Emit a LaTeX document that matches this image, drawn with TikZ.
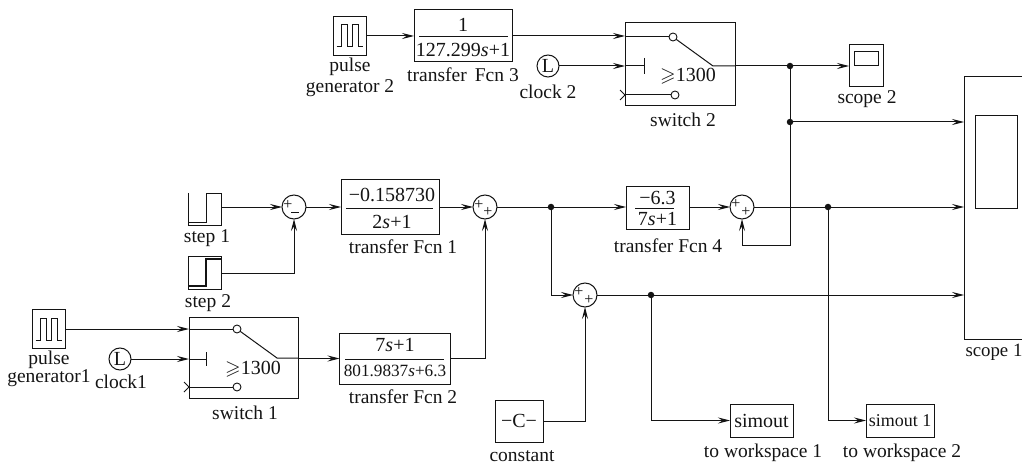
\documentclass[tikz,border=0pt]{standalone}
\usepackage{amssymb}
\usepackage{fontspec}
\setmainfont{Liberation Serif}
\usetikzlibrary{arrows.meta,calc}
\definecolor{ink}{gray}{0.08}
\tikzset{
  every node/.style={inner sep=0pt,outer sep=0pt,text=ink,font=\fontsize{20}{22}\selectfont},
  blk/.style={draw=ink,line width=1pt,rectangle},
  sumc/.style={draw=ink,line width=1pt,circle,minimum size=24pt},
  clk/.style={draw=ink,line width=1pt,circle,minimum size=22pt},
  port/.style={draw=ink,line width=.9pt,circle,fill=white,minimum size=8pt},
  lbl/.style={align=center,font=\fontsize{19.5}{21}\selectfont},
  sign/.style={font=\fontsize{16}{16}\selectfont},
  wire/.style={draw=ink,line width=1pt},
  sig/.style={wire,-{Stealth[length=12pt,width=6pt,inset=4.5pt]}},
  jun/.style={circle,fill=ink,minimum size=6.5pt},
  wave/.style={draw=ink,line width=1pt},
  small/.style={font=\fontsize{18}{20}\selectfont},
}
\newcommand{\pulsewave}[2]{% centre x, centre y
  \draw[wave] (#1-13,#2+11) -- ++(5,0) -- ++(0,-22) -- ++(6,0) -- ++(0,22) -- ++(5,0) -- ++(0,-22) -- ++(6,0) -- ++(0,22) -- ++(4,0);
}
\begin{document}
\begin{tikzpicture}[x=1pt,y=-1pt]
\useasboundingbox (0,0) rectangle (1022,465);
% top row
\node[blk,minimum width=33pt,minimum height=39pt] (pg2) at (349.5,36) {};
\pulsewave{349.5}{36}
\node[lbl] (pg2l) at (350,77) {pulse\\generator 2};
\node[blk,minimum width=98pt,minimum height=52pt] (tf3) at (463,36) {};
\node (tf3n) at (463,25) {1};
\node (tf3d) at (463,50) {127.299\textit{s}+1};
\draw[wire] (419,37) -- (508,37);
\node[lbl] (tf3l) at (463,75) {transfer\, Fcn 3};
\node[clk] (ck2) at (548,66) {L};
\node[lbl] (ck2l) at (548,92) {clock 2};
\node[blk,minimum width=110pt,minimum height=83pt] (sw2) at (680,64.5) {};
\node[port] (sw2a) at (673,37) {};
\node[port] (sw2b) at (675,95) {};
\coordinate (sw2p) at (713,66);
\coordinate (sw2t) at (644,66);
\node (sw2g) at (688,76) {$\geqslant$1300};
\node[lbl] (sw2l) at (683,120) {switch 2};
\draw[wire] (sw2.west |- sw2a) -- (sw2a);
\draw[wire] (sw2a) -- (sw2p) -- (sw2p -| sw2.east);
\draw[wire] (644,58) -- (644,74);
\draw[wire] (sw2.west |- sw2t) -- (sw2t);
\draw[wire] (sw2.west |- sw2b) -- (sw2b);
\draw[wire] (620,90) -- (625,95) -- (620,100);
\node[blk,minimum width=34pt,minimum height=42pt] (sc2) at (866,66) {};
\node[blk,minimum width=24pt,minimum height=14pt] (sc2i) at (866,59) {};
\node[lbl] (sc2l) at (867,99) {scope 2};
\coordinate (j2c) at (790,66);
\coordinate (j2b) at (790,122);
\node[jun] (j2) at (j2c) {};
\node[jun] (j3) at (j2b) {};
% scope 1
\node (sc1) at (993,208) [minimum width=58pt,minimum height=263pt] {};
\draw[wire] (sc1.north east) -- (sc1.north west) -- (sc1.south west) -- (sc1.south east);
\node[blk,minimum width=42pt,minimum height=92pt] (sc1i) at (996,162) {};
\node[lbl,font=\fontsize{18.8}{20}\selectfont,anchor=west] (sc1l) at (965.5,352) {scope 1};
% middle row
\node (st1) at (204.5,209) [minimum width=33pt,minimum height=32pt] {};
\draw[wire] (188,193) -- (188,225) -- (221,225) -- (221,193);
\draw[wire] (188,222) -- (206,222) -- (206,194) -- (221,194);
\node[lbl] (st1l) at (207,238) {step 1};
\node[blk,minimum width=33pt,minimum height=33pt] (st2) at (204.5,273) {};
\draw[draw=ink,line width=1.8pt] (188,286) -- (206,286) -- (206,259) -- (221,259);
\node[lbl] (st2l) at (208,303) {step 2};
\node[sumc] (s1) at (294,207) {};
\node[sign] at (288,205) {+};
\node[sign] at (295,214) {\rule[3pt]{8pt}{.7pt}};
\node[blk,minimum width=98pt,minimum height=55pt] (tf1) at (390,207) {};
\node (tf1n) at (392,195) {\textminus0.158730};
\node (tf1d) at (392,222) {2\textit{s}+1};
\draw[wire] (346,208) -- (433,208);
\node[lbl] (tf1l) at (403,247) {transfer Fcn 1};
\node[sumc] (s2) at (485,207) {};
\node[sign] at (479,205) {+};
\node[sign] at (488,212) {+};
\coordinate (j1c) at (551,207);
\node[jun] (j1) at (j1c) {};
\node[blk,minimum width=63pt,minimum height=42pt] (tf4) at (657.5,208) {};
\node (tf4n) at (657.5,198) {\textminus6.3};
\node (tf4d) at (657.5,219) {7\textit{s}+1};
\draw[wire] (635,208) -- (674,208);
\node[lbl] (tf4l) at (668,246) {transfer Fcn 4};
\node[sumc] (s3) at (742,207) {};
\node[sign] at (736,204) {+};
\node[sign] at (746,212) {+};
\coordinate (j4c) at (828,207);
\node[jun] (j4) at (j4c) {};
\node[sumc] (s4) at (585,295) {};
\node[sign] at (579,292) {+};
\node[sign] at (589,300) {+};
\coordinate (j5c) at (651,295);
\node[jun] (j5) at (j5c) {};
% bottom row
\node[blk,minimum width=33pt,minimum height=39pt] (pg1) at (48.5,329) {};
\pulsewave{48.5}{329}
\node[lbl,font=\fontsize{19.5}{18}\selectfont] (pg1l) at (49,369) {pulse\\generator1};
\node[clk] (ck1) at (120,359) {L};
\node[lbl] (ck1l) at (121,382) {clock1};
\node[blk,minimum width=109pt,minimum height=81pt] (sw1) at (243.5,357.5) {};
\node[port] (sw1a) at (237,329) {};
\node[port] (sw1b) at (237,387) {};
\coordinate (sw1p) at (277,358);
\coordinate (sw1t) at (206,359);
\node (sw1g) at (253,369) {$\geqslant$1300};
\node[lbl] (sw1l) at (245,413) {switch 1};
\draw[wire] (sw1.west |- sw1a) -- (sw1a);
\draw[wire] (sw1a) -- (sw1p) -- (sw1p -| sw1.east);
\draw[wire] (206,352) -- (206,366);
\draw[wire] (sw1.west |- sw1t) -- (sw1t);
\draw[wire] (sw1.west |- sw1b) -- (sw1b);
\draw[wire] (184,382) -- (189,387) -- (184,392);
\node[blk,minimum width=111pt,minimum height=51pt] (tf2) at (395,358.5) {};
\node (tf2n) at (395,345) {7\textit{s}+1};
\node[font=\fontsize{17.2}{19}\selectfont] (tf2d) at (395,371) {801.9837\textit{s}+6.3};
\draw[wire] (345,359) -- (444,359);
\node[lbl] (tf2l) at (403,397) {transfer Fcn 2};
\node[blk,minimum width=48pt,minimum height=42pt] (con) at (519,421) {\textminus C\textminus};
\node[lbl] (conl) at (522,456) {constant};
\node[blk,minimum width=63pt,minimum height=33pt] (w1) at (761.5,420.5) {simout};
\node[lbl] (w1l) at (763,453) {to workspace 1};
\node[blk,small,minimum width=68pt,minimum height=33pt] (w2) at (900,420.5) {simout 1};
\node[lbl] (w2l) at (902,453) {to workspace 2};
% connectors
\draw[sig] (pg2.east) -- (tf3.west);
\draw[sig] (tf3.east) -- (tf3.east -| sw2.west);
\draw[sig] (ck2.east) -- (ck2.east -| sw2.west);
\draw[wire] (sw2.east |- j2c) -- (j2);
\draw[sig] (j2) -- (sc2.west |- j2);
\draw[wire] (j2) -- (j3);
\draw[sig] (j3) -- (j3 -| sc1.west);
\draw[sig] (st1.east |- s1) -- (s1.west);
\draw[sig] (st2.east) -| (s1.south);
\draw[sig] (s1.east) -- (tf1.west);
\draw[sig] (tf1.east) -- (s2.west);
\draw[wire] (s2.east) -- (j1);
\draw[sig] (j1) -- (j1 -| tf4.west);
\draw[sig] (j1 -| tf4.east) -- (s3.west);
\draw[wire] (s3.east) -- (j4);
\draw[sig] (j4) -- (j4 -| sc1.west);
\draw[sig] (j3) -- (790,245) -| (s3.south);
\draw[sig] (j1) |- (s4.west);
\draw[wire] (s4.east) -- (j5);
\draw[sig] (j5) -- (j5 -| sc1.west);
\draw[sig] (j5) |- (w1.west);
\draw[sig] (j4) |- (w2.west);
\draw[sig] (con.east) -| (s4.south);
\draw[sig] (pg1.east) -- (pg1.east -| sw1.west);
\draw[sig] (ck1.east) -- (ck1.east -| sw1.west);
\draw[sig] (sw1.east |- tf2.west) -- (tf2.west);
\draw[sig] (tf2.east) -| (s2.south);
\end{tikzpicture}
\end{document}
